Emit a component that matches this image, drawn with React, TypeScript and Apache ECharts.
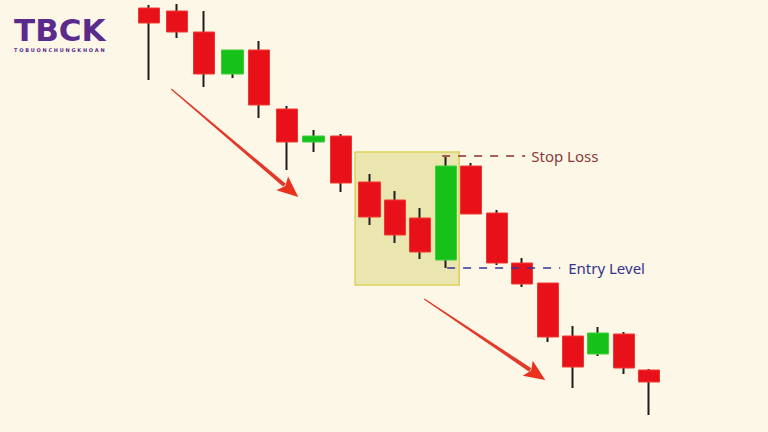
import React, { useEffect, useRef } from "react";
import * as echarts from "echarts";

// Candles: session time (irregular spacing as drawn) and prices (higher = up)
const sessions = [0, 1.06, 2.09, 3.16, 4.18, 5.25, 6.24, 7.3, 8.37, 9.35, 10.3, 11.29, 12.24, 13.23, 14.18, 15.17, 16.12, 17.07, 18.06, 19];
const opens  = [424, 421, 400, 358, 382, 323, 290, 296, 250, 232, 214, 172, 266, 219, 169, 149, 96, 78, 98, 62];
const closes = [409, 400, 358, 382, 327, 290, 296, 249, 215, 197, 180, 266, 218, 169, 148, 95, 65, 99, 64, 50];
const lows   = [352, 394, 345, 354, 314, 262, 280, 240, 207, 189, 173, 164, 218, 167, 145, 90, 44, 76, 58, 17];
const highs  = [427, 428, 421, 382, 391, 326, 302, 298, 258, 241, 224, 275, 269, 222, 174, 149, 106, 105, 100, 63];

// Annotations (x in session units, y in price units)
const boxRange = { x1: 7.83, x2: 11.79, top: 280, bottom: 147 };
const stopLoss = { label: "Stop Loss", y: 276, x1: 11.14, x2: 14.3 };
const entryLevel = { label: "Entry Level", y: 164, x1: 11.33, x2: 15.63 };
const arrows = [
  [0.84, 343, 5.67, 235],
  [10.46, 133, 15.06, 52],
];

const RED = "#e8111a";
const GREEN = "#16c21a";

export default function App() {
  const ref = useRef<HTMLDivElement>(null);
  useEffect(() => {
    const chart = echarts.init(ref.current!, null, { renderer: "svg" });
    const wickData = sessions.map((t, i) => [t, opens[i], closes[i], lows[i], highs[i]]);
    const bodyData = sessions.map((t, i) => [
      t, opens[i], closes[i], Math.min(opens[i], closes[i]), Math.max(opens[i], closes[i]),
    ]);
    chart.setOption({
      animation: false,
      backgroundColor: "#fdf7e8",
      grid: { left: 136, width: 526, top: 0, bottom: 0 },
      xAxis: { type: "value", min: -0.5, max: 19.5, show: false },
      yAxis: { type: "value", min: 0, max: 432, show: false },
      graphic: [
        {
          type: "text", left: 14, top: 14,
          style: { text: "TBCK", fill: "#5a2a8c", font: "bold 31px 'DejaVu Sans'" },
        },
        {
          type: "text", left: 14, top: 47,
          style: { text: "T O B U O N C H U N G K H O A N", fill: "#5a2a8c", font: "bold 5px 'DejaVu Sans'" },
        },
      ],
      series: [
        {
          type: "line", data: [],
          markArea: {
            silent: true,
            itemStyle: { color: "#ebe6b0", borderColor: "#ddd05a", borderWidth: 1.5 },
            data: [[{ xAxis: boxRange.x1, yAxis: boxRange.top }, { xAxis: boxRange.x2, yAxis: boxRange.bottom }]],
          },
        },
        {
          type: "candlestick", z: 4, barWidth: 1,
          encode: { x: 0, y: [1, 2, 3, 4] },
          data: wickData,
          itemStyle: { color: "#1e1e1e", color0: "#1e1e1e", borderColor: "#1e1e1e", borderColor0: "#1e1e1e", borderWidth: 2 },
        },
        {
          type: "candlestick", z: 5, barWidth: 22,
          encode: { x: 0, y: [1, 2, 3, 4] },
          data: bodyData,
          itemStyle: { color: GREEN, color0: RED, borderColor: "#3fcf3a", borderColor0: "#f03a30", borderWidth: 1 },
        },
        {
          type: "line", z: 6, symbol: "none",
          data: [[stopLoss.x1, stopLoss.y], [stopLoss.x2, stopLoss.y]],
          lineStyle: { color: "#8b2f2f", width: 1.5, type: [8, 8] },
          endLabel: { show: true, formatter: stopLoss.label, color: "#8a3a3a", fontSize: 15, fontFamily: "Noto Sans", distance: 6 },
        },
        {
          type: "line", z: 6, symbol: "none",
          data: [[entryLevel.x1, entryLevel.y], [entryLevel.x2, entryLevel.y]],
          lineStyle: { color: "#34349a", width: 1.5, type: [8, 8] },
          endLabel: { show: true, formatter: entryLevel.label, color: "#34348c", fontSize: 15, fontFamily: "Noto Sans", distance: 8 },
        },
        {
          type: "custom", z: 6,
          data: arrows,
          renderItem: (params: any, api: any) => {
            const p1 = api.coord([api.value(0), api.value(1)]);
            const p2 = api.coord([api.value(2), api.value(3)]);
            const dx = p2[0] - p1[0], dy = p2[1] - p1[1];
            const len = Math.sqrt(dx * dx + dy * dy);
            const ux = dx / len, uy = dy / len;
            const nx = -uy, ny = ux;
            const headLen = 21, headW = 9;
            const bx = p2[0] - ux * headLen, by = p2[1] - uy * headLen;
            const w0 = 0.6, w1 = 2;
            const shaft = [
              [p1[0] + nx * w0, p1[1] + ny * w0],
              [bx + ux * 3 + nx * w1, by + uy * 3 + ny * w1],
              [bx + ux * 3 - nx * w1, by + uy * 3 - ny * w1],
              [p1[0] - nx * w0, p1[1] - ny * w0],
            ];
            const head = [
              [p2[0], p2[1]],
              [bx + nx * headW, by + ny * headW],
              [bx + ux * 4, by + uy * 4],
              [bx - nx * headW, by - ny * headW],
            ];
            return {
              type: "group",
              children: [
                { type: "polygon", shape: { points: shaft }, style: { fill: "#e23a2a" } },
                { type: "polygon", shape: { points: head }, style: { fill: "#e8321e" } },
              ],
            };
          },
        },
      ],
    });
    return () => chart.dispose();
  }, []);
  return <div ref={ref} style={{ position: "fixed", left: 0, top: 0, width: 768, height: 432 }} />;
}
